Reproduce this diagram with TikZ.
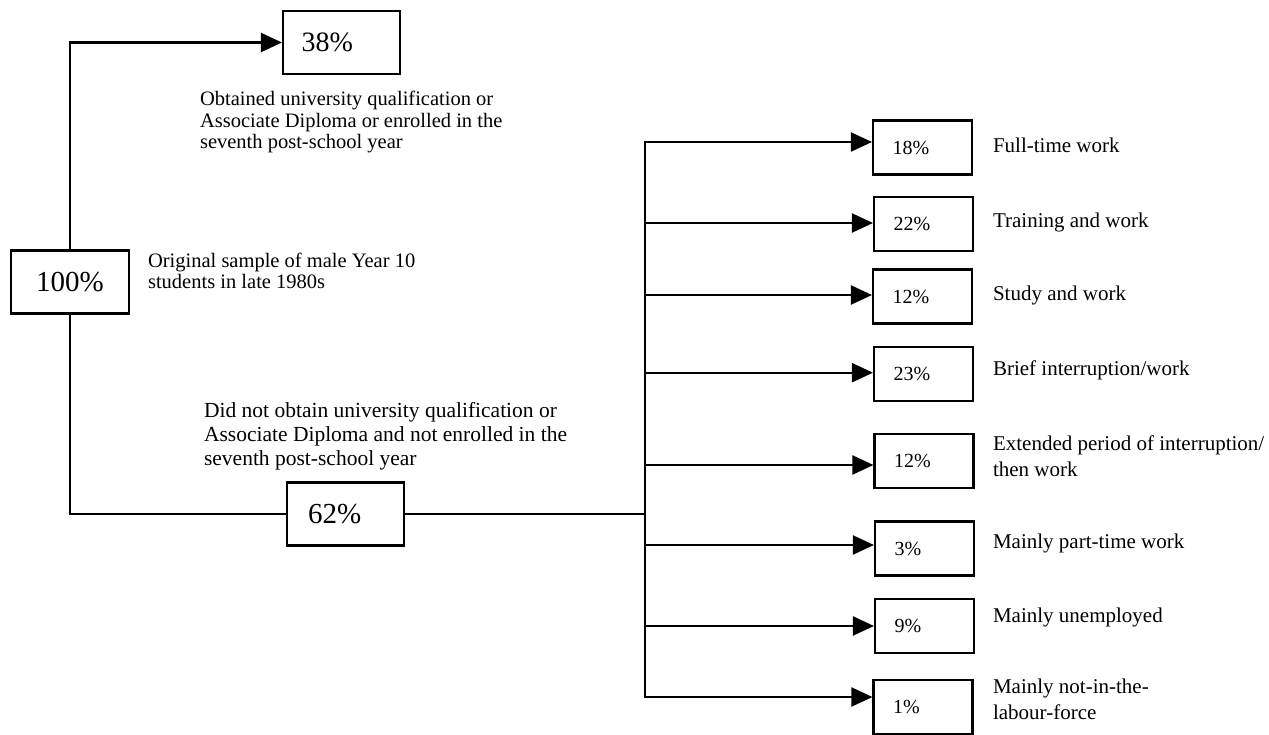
\documentclass[tikz,border=0pt]{standalone}
\usepackage{fontspec}
\setmainfont{Liberation Serif}
\usetikzlibrary{arrows.meta}
\begin{document}
\begin{tikzpicture}[x=1pt,y=-1pt,
  line width=2.1pt,
  arr/.style={-{Triangle[length=21pt,width=19pt]}},
  bigbox/.style={draw, line width=2.1pt, minimum height=63pt, inner ysep=0pt, align=left, font=\fontsize{28}{30}\selectfont},
  smallbox/.style={draw, line width=2.1pt, text width=59.6pt, align=left, inner xsep=19.7pt, inner ysep=0pt, minimum height=54pt, font=\fontsize{20}{21}\selectfont},
  lbl/.style={anchor=north west, inner sep=0pt, align=left, font=\fontsize{21}{24}\selectfont}
]
\useasboundingbox (0,0) rectangle (1269,735);

% main boxes
\node[bigbox, inner xsep=18.7pt, text width=79.6pt] (b38) at (341.5,42.5) {38\%};
\node[bigbox, inner xsep=0pt, minimum width=118pt, align=center, font=\fontsize{29}{30}\selectfont] (b100) at (70,282) {100\%};
\node[bigbox, inner xsep=21pt, text width=75pt, font=\fontsize{29}{30}\selectfont] (b62) at (345.5,514) {62\%};

% outcome boxes
\node[smallbox] (b18) at (922.5,147.5) {18\%};
\node[smallbox] (b22) at (923.5,224) {22\%};
\node[smallbox] (b12a) at (922.5,296.5) {12\%};
\node[smallbox] (b23) at (923.5,374) {23\%};
\node[smallbox] (b12b) at (924,461) {12\%};
\node[smallbox] (b3) at (924.5,548.5) {3\%};
\node[smallbox] (b9) at (924.5,626) {9\%};
\node[smallbox] (b1) at (923,707) {1\%};

% descriptions
\node[lbl, font=\fontsize{20.5}{21.7}\selectfont] (t38) at (199,90) {Obtained university qualification or\\Associate Diploma or enrolled in the\\seventh post-school year};
\node[lbl, font=\fontsize{20.5}{21.7}\selectfont] (t100) at (147,251.7) {Original sample of male Year 10\\students in late 1980s};
\node[lbl, font=\fontsize{21.5}{24}\selectfont] (t62) at (203,401.7) {Did not obtain university qualification or\\Associate Diploma and not enrolled in the\\seventh post-school year};

\node[lbl] (l18) at (992,136.7) {Full-time work};
\node[lbl] (l22) at (992,211.7) {Training and work};
\node[lbl] (l12a) at (992,285) {Study and work};
\node[lbl] (l23) at (992,360) {Brief interruption/work};
\node[lbl, font=\fontsize{21}{26}\selectfont] (l12b) at (992,435) {Extended period of interruption/\\then work};
\node[lbl] (l3) at (992,533) {Mainly part-time work};
\node[lbl] (l9) at (992,607) {Mainly unemployed};
\node[lbl, font=\fontsize{21}{26}\selectfont] (l1) at (992,678) {Mainly not-in-the-\\labour-force};

% left connectors
\draw[arr] (b100.north) |- (b38.west);
\draw (b100.south) |- (b62.west);

% branch trunk
\coordinate (j1) at (645,142);
\coordinate (j2) at (645,223);
\coordinate (j3) at (645,295);
\coordinate (j4) at (645,372.7);
\coordinate (j5) at (645,465);
\coordinate (j6) at (645,545);
\coordinate (j7) at (645,626);
\coordinate (j8) at (645,697);
\draw (b62.east) -- (b62.east -| j1);
\draw[arr] (j5) -- (j1) -- (j1 -| b18.west);
\draw[arr] (j5) -- (j8) -- (j8 -| b1.west);
\draw[arr] (j2) -- (j2 -| b22.west);
\draw[arr] (j3) -- (j3 -| b12a.west);
\draw[arr] (j4) -- (j4 -| b23.west);
\draw[arr] (j5) -- (j5 -| b12b.west);
\draw[arr] (j6) -- (j6 -| b3.west);
\draw[arr] (j7) -- (j7 -| b9.west);
\end{tikzpicture}
\end{document}
